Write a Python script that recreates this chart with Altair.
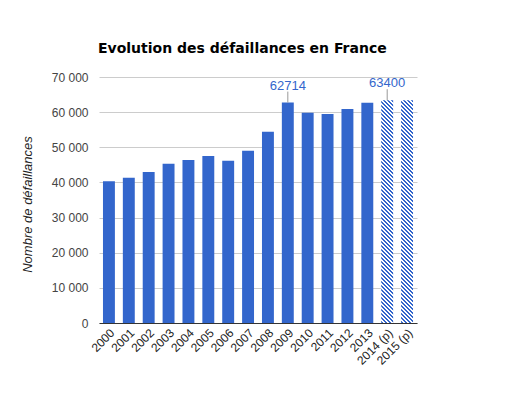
import altair as alt
import pandas as pd

# ---- data ----
years = ["2000", "2001", "2002", "2003", "2004", "2005", "2006", "2007",
         "2008", "2009", "2010", "2011", "2012", "2013", "2014 (p)", "2015 (p)"]
values = [40300, 41300, 43000, 45300, 46400, 47500, 46200, 49000,
          54400, 62714, 59800, 59500, 60900, 62700, 63400, 63400]
projected = [False] * 14 + [True] * 2
annotated = ["2009", "2014 (p)"]

W, H = 318, 246
YMAX = 70000
BLUE = "#3366cc"
PAD_IN, PAD_OUT = 0.4, 0.2

df = pd.DataFrame({"year": years, "value": values, "proj": projected})
df["note"] = df["year"].isin(annotated)

# ---- hatch fill (diagonal stripes) built as a linear gradient ----
n = len(years)
step = W / (n - PAD_IN + 2 * PAD_OUT)
bw = step * (1 - PAD_IN)
proj_val = max(v for v, p in zip(values, projected) if p)
bh = proj_val / YMAX * H
lam = (bw + bh) / (bw * bw + bh * bh)
period = 4.0
span = bh + bw
stops = []
k = 0
while k * period < span:
    a = k * period / span
    b = min((k * period + 2.3) / span, 1.0)
    c = min((k + 1) * period / span, 1.0)
    stops += [{"offset": a, "color": BLUE}, {"offset": b, "color": BLUE},
              {"offset": b, "color": "#ffffff"}, {"offset": c, "color": "#ffffff"}]
    k += 1
hatch = {"gradient": "linear", "x1": 1, "y1": 0,
         "x2": 1 - bw * lam, "y2": bh * lam, "stops": stops}

fmt = "replace(format(datum.value, ','), ',', ' ')"

base = alt.Chart(df).encode(
    x=alt.X("year:N", sort=years, title=None,
            scale=alt.Scale(paddingInner=PAD_IN, paddingOuter=PAD_OUT),
            axis=alt.Axis(labelAngle=-45, labelAlign="right", labelBaseline="top",
                          labelFont="Liberation Sans", labelFontSize=12,
                          labelColor="#222222", ticks=False, labelPadding=4,
                          grid=False, domainColor="#333333", domainWidth=1,
                          zindex=1)),
    y=alt.Y("value:Q", scale=alt.Scale(domain=[0, YMAX], nice=False),
            axis=alt.Axis(title="Nombre de défaillances",
                          values=list(range(0, YMAX + 1, 10000)),
                          labelOverlap=False,
                          labelExpr=fmt, labelFont="Liberation Sans",
                          labelFontSize=12, labelColor="#444444",
                          labelPadding=11, ticks=False, domain=False,
                          gridColor="#cccccc", titleFont="Liberation Sans",
                          titleFontSize=13, titleFontStyle="italic",
                          titleFontWeight="normal", titleColor="#222222",
                          titleX=-68, titleY=H / 2 + 4, titleAngle=-90,
                          titleAlign="center", titleBaseline="alphabetic")),
)

solid = base.mark_bar(color=BLUE).transform_filter("!datum.proj")
hatched = base.mark_bar(color=hatch).transform_filter("datum.proj")
stalk = base.mark_rule(color="#999999", y2Offset=-11).encode(
    y2=alt.Y2("value:Q")).transform_filter("datum.note")
label = base.mark_text(color=BLUE, font="Liberation Sans", fontSize=13,
                       baseline="alphabetic", dy=-13).encode(
    text=alt.Text("value:Q", format="d")).transform_filter("datum.note")

chart = alt.layer(solid, hatched, stalk, label).properties(
    width=W, height=H,
    background="#ffffff",
    title=alt.TitleParams("Evolution des défaillances en France", anchor="start",
                          font="DejaVu Sans", fontSize=14, fontWeight="bold",
                          color="#000000", offset=15, frame="group", dx=-1),
    autosize=alt.AutoSizeParams(type="none"),
    padding={"left": 91, "top": 69, "right": 89, "bottom": 69},
).configure_view(strokeWidth=0, stroke="transparent")

chart.save("out.html", embed_options={"renderer": "svg", "actions": False})
